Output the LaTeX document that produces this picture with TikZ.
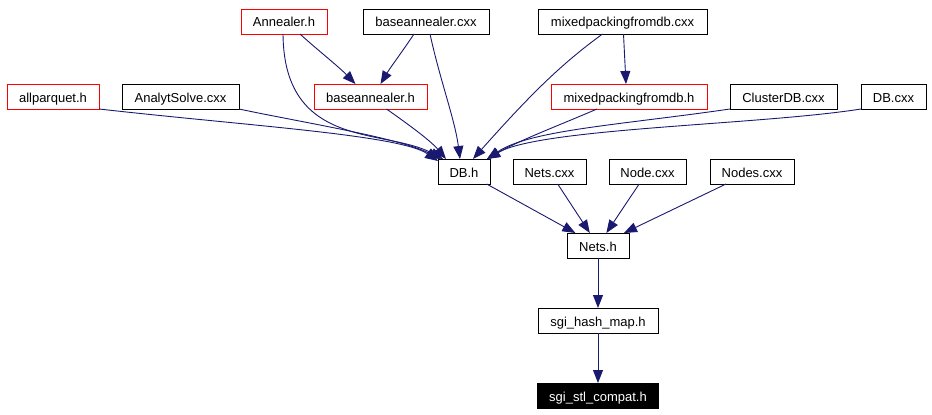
\documentclass[tikz,border=0pt]{standalone}
\usepackage{fontspec}
\setmainfont{Liberation Sans}
\usetikzlibrary{arrows.meta, positioning}
\definecolor{EdgeBlue}{HTML}{191970}
\definecolor{HdrRed}{HTML}{FF0000}

\begin{document}
\begin{tikzpicture}[
    x=1pt, y=-1pt,
    node distance=23pt,
    file/.style={draw, line width=0.9pt, minimum height=25pt, inner sep=0pt, outer sep=0pt,
        text height=11pt, text depth=0pt, font=\fontsize{13}{15}\selectfont},
    hdr/.style={file, draw=HdrRed},
    cur/.style={file, fill=black, text=white},
    dep/.style={-{Triangle[length=13pt, width=10pt]}, line width=0.9pt, EdgeBlue}
]
    \useasboundingbox (0,0) rectangle (932,415);

    % top row
    \node[hdr, minimum width=86pt] (ann) at (284,21.5) {Annealer.h};
    \node[file, minimum width=126pt, right=36pt of ann] (bacxx) {baseannealer.cxx};
    \node[file, minimum width=169pt, right=49pt of bacxx] (mixcxx) {mixedpackingfromdb.cxx};

    % second row
    \node[hdr, minimum width=92pt] (allp) at (53,96.5) {allparquet.h};
    \node[file, minimum width=117pt, right=of allp] (analyt) {AnalytSolve.cxx};
    \node[hdr, minimum width=113pt, right=75pt of analyt] (bah) {baseannealer.h};
    \node[hdr, minimum width=156pt, right=124pt of bah] (mixh) {mixedpackingfromdb.h};
    \node[file, minimum width=107pt, right=of mixh] (cluster) {ClusterDB.cxx};
    \node[file, minimum width=65pt, right=24pt of cluster] (dbcxx) {DB.cxx};

    % third row
    \node[file, minimum width=52pt] (dbh) at (464,171.5) {DB.h};
    \node[file, minimum width=73pt, right=of dbh] (netscxx) {Nets.cxx};
    \node[file, minimum width=77pt, right=of netscxx] (nodecxx) {Node.cxx};
    \node[file, minimum width=84pt, right=24pt of nodecxx] (nodescxx) {Nodes.cxx};

    % column
    \node[file, minimum width=62pt] (netsh) at (598,245.5) {Nets.h};
    \node[file, minimum width=120pt, below=50pt of netsh] (hash) {sgi\_hash\_map.h};
    \node[cur, minimum width=121pt, below=50pt of hash] (stl) {sgi\_stl\_compat.h};

    % edges from the top row
    \draw[dep] ([xshift=16pt]ann.south) .. controls (314,47) and (338,66) .. ([xshift=-15pt]bah.north);
    \draw[dep] ([xshift=-1pt]ann.south) .. controls (284,150) and (385,128) .. ([xshift=-21pt]dbh.north);
    \draw[dep] ([xshift=-12pt]bacxx.south) .. controls (402,52) and (390,68) .. ([xshift=10pt]bah.north);
    \draw[dep] ([xshift=4pt]bacxx.south) .. controls (440,80) and (455,120) .. ([xshift=-4pt]dbh.north);
    \draw[dep] ([xshift=-20pt]mixcxx.south) .. controls (560,65) and (530,95) .. ([xshift=9pt]dbh.north);
    \draw[dep] ([xshift=1pt]mixcxx.south) -- ([xshift=-3pt]mixh.north);

    % edges from the second row
    \draw[dep] (allp.south east) .. controls (250,126) and (400,135) .. ([yshift=-2pt]dbh.north west);
    \draw[dep] (analyt.south east) .. controls (300,122) and (400,138) .. ([xshift=-24pt]dbh.north);
    \draw[dep] ([xshift=16pt]bah.south) .. controls (405,122) and (430,140) .. ([xshift=-18pt]dbh.north);
    \draw[dep] ([xshift=-32pt]mixh.south) .. controls (560,125) and (520,140) .. ([xshift=-3pt]dbh.north east);
    \draw[dep] (cluster.south west) .. controls (620,125) and (530,130) .. ([xshift=-3pt]dbh.north east);
    \draw[dep] (dbcxx.south west) .. controls (760,125) and (540,128) .. ([xshift=-3pt]dbh.north east);

    % lower edges
    \draw[dep] (dbh) -- (netsh);
    \draw[dep] (netscxx) -- (netsh);
    \draw[dep] (nodecxx) -- (netsh);
    \draw[dep] (nodescxx) -- (netsh);
    \draw[dep] (netsh) -- (hash);
    \draw[dep] (hash) -- (stl);
\end{tikzpicture}
\end{document}
